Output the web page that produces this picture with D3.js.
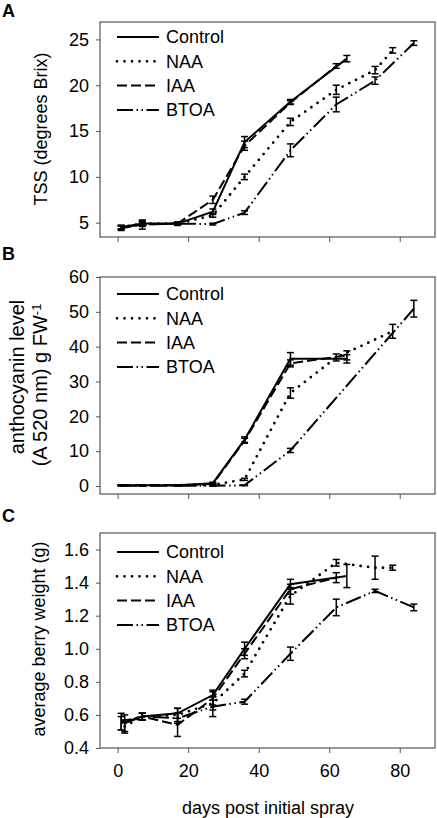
<!DOCTYPE html>
<html>
<head>
<meta charset="utf-8">
<script src="https://cdn.jsdelivr.net/npm/d3@7"></script>
<style>
  html, body { margin: 0; padding: 0; background: #fff; }
  svg { display: block; font-family: "Liberation Sans", Arial, sans-serif; }
</style>
</head>
<body>
<svg id="chart" width="437" height="818"></svg>
<script>
// ---------- data ----------
const seriesNames = ["Control", "NAA", "IAA", "BTOA"];
const xTicks = [0, 20, 40, 60, 80];

// Panel A: TSS (degrees Brix)
const ctrlA_x = [1, 7, 17, 27, 36, 49, 65];
const ctrlA_y = [4.5, 4.9, 4.9, 6.2, 13.8, 18.2, 22.9];
const ctrlA_e = [0.2, 0.3, 0.15, 0.3, 0.6, 0.25, 0.35];
const naaA_x = [1, 7, 17, 27, 36, 49, 62, 73, 78];
const naaA_y = [4.5, 4.9, 4.9, 5.8, 10.0, 16.0, 19.5, 21.65, 23.8];
const naaA_e = [0.2, 0.2, 0.15, 0.2, 0.3, 0.4, 0.5, 0.4, 0.3];
const iaaA_x = [1, 7, 17, 27, 36, 49, 62];
const iaaA_y = [4.4, 4.8, 4.9, 7.5, 13.4, 18.1, 22.1];
const iaaA_e = [0.25, 0.5, 0.2, 0.4, 0.5, 0.2, 0.25];
const btoaA_x = [1, 7, 17, 27, 36, 49, 62, 73, 84];
const btoaA_y = [4.5, 4.8, 4.9, 4.85, 6.1, 12.9, 17.9, 20.5, 24.6];
const btoaA_e = [0.2, 0.2, 0.15, 0.1, 0.2, 0.7, 0.8, 0.4, 0.25];
const yTicksA = [5, 10, 15, 20, 25];

// Panel B: anthocyanin level
const ctrlB_x = [1, 7, 17, 27, 36, 49, 65];
const ctrlB_y = [0.2, 0.2, 0.2, 0.8, 13.3, 36.5, 36.5];
const ctrlB_e = [0.1, 0.1, 0.1, 0.3, 0.8, 1.8, 1.2];
const naaB_x = [1, 7, 17, 27, 36, 49, 62, 78];
const naaB_y = [0.2, 0.2, 0.2, 0.3, 1.9, 26.7, 36.9, 44.4];
const naaB_e = [0.1, 0.1, 0.1, 0.2, 0.3, 1.5, 1.0, 2.0];
const iaaB_x = [1, 7, 17, 27, 36, 49, 65];
const iaaB_y = [0.2, 0.2, 0.2, 0.6, 13.0, 35.2, 37.5];
const iaaB_e = [0.1, 0.1, 0.1, 0.2, 0.7, 1.0, 1.3];
const btoaB_x = [1, 7, 17, 27, 36, 49, 84];
const btoaB_y = [0.1, 0.1, 0.1, 0.1, 0.2, 10.2, 50.9];
const btoaB_e = [0.1, 0.1, 0.1, 0.1, 0.1, 0.6, 2.4];
const yTicksB = [0, 10, 20, 30, 40, 50, 60];

// Panel C: average berry weight (g)
const ctrlC_x = [1, 7, 17, 27, 36, 49, 65];
const ctrlC_y = [0.55, 0.59, 0.61, 0.72, 1.0, 1.39, 1.44];
const ctrlC_e = [0.04, 0.02, 0.03, 0.03, 0.04, 0.03, 0.07];
const naaC_x = [2, 7, 17, 27, 36, 49, 62, 73, 78];
const naaC_y = [0.53, 0.59, 0.60, 0.67, 0.85, 1.32, 1.52, 1.49, 1.49];
const naaC_e = [0.04, 0.02, 0.04, 0.04, 0.02, 0.05, 0.02, 0.07, 0.015];
const iaaC_x = [1, 7, 17, 27, 36, 49, 62];
const iaaC_y = [0.56, 0.59, 0.54, 0.70, 0.97, 1.36, 1.43];
const iaaC_e = [0.05, 0.02, 0.07, 0.04, 0.03, 0.03, 0.03];
const btoaC_x = [2, 7, 17, 27, 36, 49, 62, 73, 84];
const btoaC_y = [0.55, 0.59, 0.58, 0.65, 0.68, 0.97, 1.25, 1.35, 1.25];
const btoaC_e = [0.05, 0.02, 0.03, 0.06, 0.015, 0.04, 0.05, 0.01, 0.02];
const yTicksC = [0.4, 0.6, 0.8, 1.0, 1.2, 1.4, 1.6];

// ---------- styles ----------
const dashes = { Control: null, NAA: "0,7.5", IAA: "10,4", BTOA: "16,3.5,1.5,3.5,1.5,3.5" };
const caps = { Control: "butt", NAA: "round", IAA: "butt", BTOA: "butt" };
const widths = { Control: 2, NAA: 2.8, IAA: 2, BTOA: 2 };
const FS = 18;

function zip(xs, ys, es) { return xs.map((x, i) => ({ x: x, y: ys[i], e: es[i] })); }

const panels = [
  { letter: "A", top: 22, bottom: 237, domain: [3.44, 26.9], ticks: yTicksA, fmt: d3.format("d"),
    letterY: 17, legendY: 37, showX: false,
    series: { Control: zip(ctrlA_x, ctrlA_y, ctrlA_e), NAA: zip(naaA_x, naaA_y, naaA_e),
              IAA: zip(iaaA_x, iaaA_y, iaaA_e), BTOA: zip(btoaA_x, btoaA_y, btoaA_e) } },
  { letter: "B", top: 277, bottom: 494, domain: [-2.3, 60], ticks: yTicksB, fmt: d3.format("d"),
    letterY: 260, legendY: 294, showX: false,
    series: { Control: zip(ctrlB_x, ctrlB_y, ctrlB_e), NAA: zip(naaB_x, naaB_y, naaB_e),
              IAA: zip(iaaB_x, iaaB_y, iaaB_e), BTOA: zip(btoaB_x, btoaB_y, btoaB_e) } },
  { letter: "C", top: 533, bottom: 748, domain: [0.4, 1.7], ticks: yTicksC, fmt: d3.format(".1f"),
    letterY: 522, legendY: 552, showX: true,
    series: { Control: zip(ctrlC_x, ctrlC_y, ctrlC_e), NAA: zip(naaC_x, naaC_y, naaC_e),
              IAA: zip(iaaC_x, iaaC_y, iaaC_e), BTOA: zip(btoaC_x, btoaC_y, btoaC_e) } }
];

const svg = d3.select("#chart");
const left = 100, right = 435;
const x = d3.scaleLinear().domain([-5, 90]).range([left, right]);
const frameColor = "#555";

panels.forEach(p => {
  const y = d3.scaleLinear().domain(p.domain).range([p.bottom, p.top]);
  const g = svg.append("g");

  svg.append("text").attr("x", 2).attr("y", p.letterY)
    .attr("font-size", 18).attr("font-weight", "bold").attr("fill", "#000").text(p.letter);

  const ya = g.append("g").attr("transform", `translate(${left},0)`)
    .call(d3.axisLeft(y).tickValues(p.ticks).tickFormat(p.fmt).tickSize(4).tickSizeOuter(0).tickPadding(7));
  ya.select(".domain").remove();
  ya.selectAll("line").attr("stroke", frameColor);
  ya.selectAll("text").attr("font-size", FS).attr("fill", "#000").attr("font-family", "Liberation Sans, Arial, sans-serif");

  const xa = g.append("g").attr("transform", `translate(0,${p.bottom})`)
    .call(d3.axisBottom(x).tickValues(xTicks).tickSize(5).tickSizeOuter(0).tickPadding(11)
      .tickFormat(p.showX ? d3.format("d") : () => ""));
  xa.select(".domain").remove();
  xa.selectAll("line").attr("stroke", frameColor);
  xa.selectAll("text").attr("font-size", FS).attr("fill", "#000").attr("font-family", "Liberation Sans, Arial, sans-serif");

  g.append("rect").attr("x", left).attr("y", p.top).attr("width", right - left).attr("height", p.bottom - p.top)
    .attr("fill", "none").attr("stroke", frameColor).attr("stroke-width", 1.2);

  const line = d3.line().x(d => x(d.x)).y(d => y(d.y));

  seriesNames.forEach(name => {
    const data = p.series[name];
    g.append("path").datum(data).attr("d", line)
      .attr("fill", "none").attr("stroke", "#000").attr("stroke-width", widths[name])
      .attr("stroke-linecap", caps[name])
      .attr("stroke-dasharray", dashes[name]);
    const eb = g.append("g").selectAll("g").data(data).join("g");
    eb.append("line").attr("x1", d => x(d.x)).attr("x2", d => x(d.x))
      .attr("y1", d => y(d.y - d.e)).attr("y2", d => y(d.y + d.e))
      .attr("stroke", "#000").attr("stroke-width", 1.5);
    eb.append("line").attr("x1", d => x(d.x) - 3.5).attr("x2", d => x(d.x) + 3.5)
      .attr("y1", d => y(d.y - d.e)).attr("y2", d => y(d.y - d.e))
      .attr("stroke", "#000").attr("stroke-width", 1.5);
    eb.append("line").attr("x1", d => x(d.x) - 3.5).attr("x2", d => x(d.x) + 3.5)
      .attr("y1", d => y(d.y + d.e)).attr("y2", d => y(d.y + d.e))
      .attr("stroke", "#000").attr("stroke-width", 1.5);
  });

  const leg = g.append("g").selectAll("g").data(seriesNames).join("g")
    .attr("transform", (d, i) => `translate(0,${p.legendY + i * 24.3})`);
  leg.append("line").attr("x1", 117).attr("x2", 159).attr("y1", 0).attr("y2", 0)
    .attr("stroke", "#000").attr("stroke-width", d => widths[d])
    .attr("stroke-linecap", d => caps[d]).attr("stroke-dasharray", d => dashes[d]);
  leg.append("text").attr("x", 166).attr("y", 0).attr("dy", "0.36em")
    .attr("font-size", FS).attr("fill", "#000").text(d => d);
});

// y-axis labels
svg.append("text").attr("transform", "translate(41,129) rotate(-90)").attr("dy", "0.35em")
  .attr("text-anchor", "middle").attr("font-size", FS).text("TSS (degrees Brix)");
svg.append("text").attr("transform", "translate(17,377) rotate(-90)").attr("dy", "0.35em")
  .attr("text-anchor", "middle").attr("font-size", 20).text("anthocyanin level");
const t2 = svg.append("text").attr("transform", "translate(40,385) rotate(-90)").attr("dy", "0.35em")
  .attr("text-anchor", "middle").attr("font-size", 20);
t2.append("tspan").text("(A 520 nm) g FW");
t2.append("tspan").attr("dy", "-0.45em").attr("font-size", 13).text("-1");
svg.append("text").attr("transform", "translate(39,639) rotate(-90)").attr("dy", "0.35em")
  .attr("text-anchor", "middle").attr("font-size", FS).text("average berry weight (g)");

svg.append("text").attr("x", 268).attr("y", 814).attr("text-anchor", "middle")
  .attr("font-size", FS).text("days post initial spray");
</script>
</body>
</html>
